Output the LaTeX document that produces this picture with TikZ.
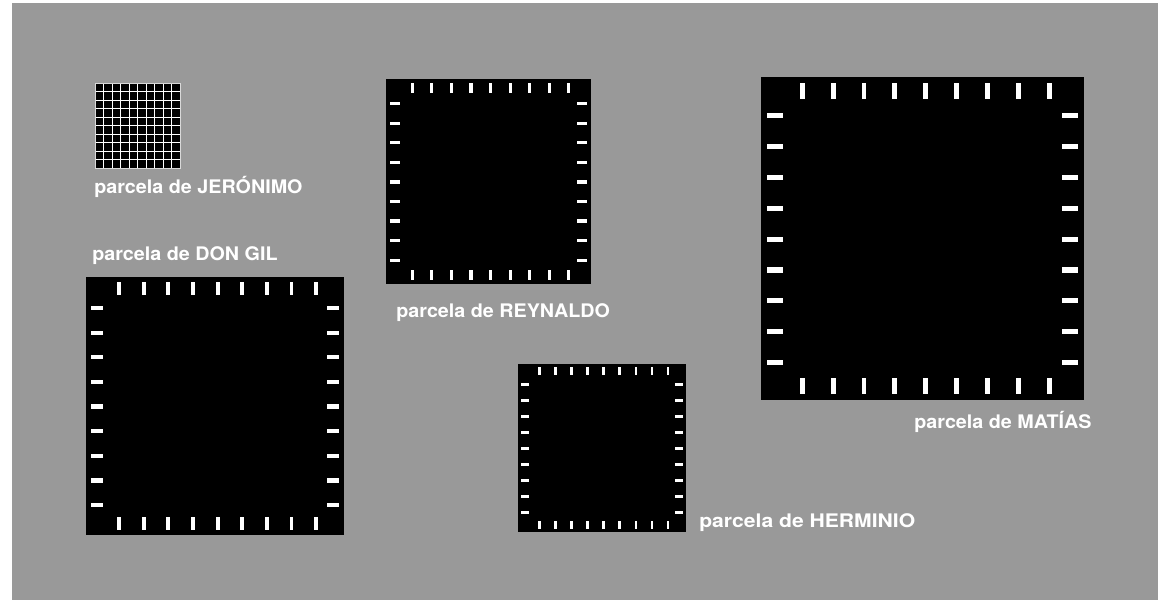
\documentclass[tikz,border=0pt]{standalone}
\usepackage{fontspec}
\setmainfont{TeX Gyre Heros}
\usetikzlibrary{positioning}
\definecolor{grisfondo}{HTML}{999999}

\begin{document}
\begin{tikzpicture}[x=0.025cm, y=-0.025cm]
    % Estilos de las parcelas y de los rotulos
    \tikzset{
        fondo/.style={fill=grisfondo},
        parcela/.style={fill=black},
        marca/.style={fill=white},
        rotulo/.style={
            text=white,
            font=\fontsize{13.3}{15}\selectfont\bfseries,
            inner sep=0pt,
            xscale=1.055,
            anchor=base west
        }
    }

    % Lienzo con su margen blanco
    \useasboundingbox (0,0) rectangle (1158,600);
    \fill[fondo] (12,3) rectangle (1158,600);

    % --- Parcela pequena: cuadricula 10x10 ---
    \fill[parcela] (95,83) rectangle (180,168);
    \foreach \k in {1,...,9} {
        \draw[white, line width=0.6pt] (95+8.5*\k,83) -- (95+8.5*\k,168);
        \draw[white, line width=0.6pt] (95,83+8.5*\k) -- (180,83+8.5*\k);
    }
    \draw[gray!30, line width=0.6pt] (95,83) rectangle (180,168);

    % --- Parcelas grandes con sus marcas en el borde ---
    % origen x / origen y / lado (en pixeles)
    \foreach \px/\py/\s in {86/277/258, 386/79/205, 518/364/168, 761/77/323} {
        \begin{scope}[shift={(\px,\py)}, scale=\s]
            \fill[parcela] (0,0) rectangle (1,1);
            \foreach \i in {0,...,8} {
                % marcas de arriba y de abajo
                \fill[marca] ({0.128+0.0955*\i-0.0075},0.02) rectangle ({0.128+0.0955*\i+0.0075},0.068);
                \fill[marca] ({0.128+0.0955*\i-0.0075},0.932) rectangle ({0.128+0.0955*\i+0.0075},0.98);
                % marcas de izquierda y de derecha
                \fill[marca] (0.018,{0.12+0.0955*\i-0.008}) rectangle (0.067,{0.12+0.0955*\i+0.008});
                \fill[marca] (0.933,{0.12+0.0955*\i-0.008}) rectangle (0.982,{0.12+0.0955*\i+0.008});
            }
        \end{scope}
    }

    % Rotulos
    \node[rotulo] (jeronimo) at (94,193) {parcela de JERÓNIMO};
    \node[rotulo] (dongil)   at (92,260) {parcela de DON GIL};
    \node[rotulo] (reynaldo) at (396,317) {parcela de REYNALDO};
    \node[rotulo, xscale=1.07] (herminio) at (699,527) {parcela de HERMINIO};
    \node[rotulo] (matias)   at (914,428) {parcela de MATÍAS};

\end{tikzpicture}
\end{document}
